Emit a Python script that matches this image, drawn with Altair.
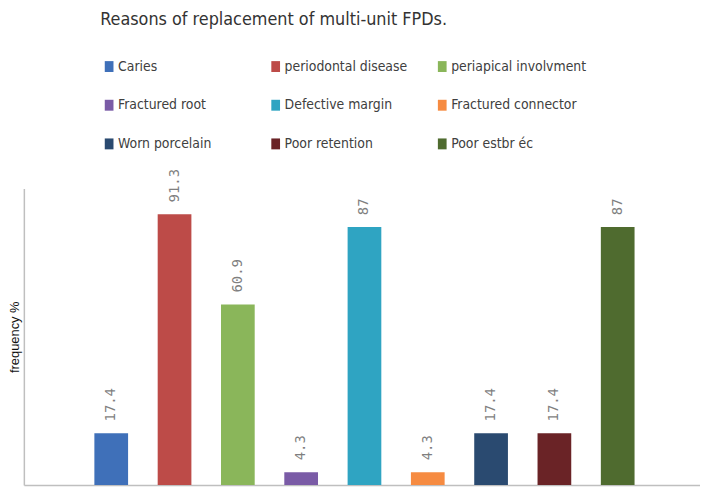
import altair as alt
import pandas as pd

categories = ["Caries", "periodontal disease", "periapical involvment",
              "Fractured root", "Defective margin", "Fractured connector",
              "Worn porcelain", "Poor retention", "Poor estbr éc"]
values = [17.4, 91.3, 60.9, 4.3, 87, 4.3, 17.4, 17.4, 87]
colors = ["#3F70B9", "#BD4B48", "#8AB65A", "#7A5BA6", "#2FA4C2", "#F68B41",
          "#2A4A70", "#6A2326", "#4F6B2F"]

df = pd.DataFrame({"reason": categories, "value": values,
                   "pos": list(range(len(categories))),
                   "label": [f"{v:g}" for v in values]})

narrow = "Liberation Sans Narrow, DejaVu Sans Condensed, sans-serif"

x = alt.X("pos:Q", scale=alt.Scale(domain=[-1.38, 9.3], nice=False, zero=False, padding=0),
          axis=alt.Axis(labels=False, ticks=False, grid=False, title=None,
                        domainColor="#BFBFBF", domainWidth=1.5))
y = alt.Y("value:Q", scale=alt.Scale(domain=[0, 100], nice=False),
          axis=alt.Axis(labels=False, ticks=False, grid=False,
                        title="frequency %", titleFont="Liberation Sans, Arial, sans-serif",
                        titleFontSize=13, titleFontWeight="normal", titleColor="#111111",
                        titlePadding=2, domainColor="#BFBFBF", domainWidth=1.5))

bars = alt.Chart(df).mark_bar(size=34).encode(
    x=x, y=y,
    color=alt.Color("reason:N",
                    scale=alt.Scale(domain=categories, range=colors),
                    legend=alt.Legend(orient="none", legendX=79, legendY=-130,
                                      columns=3, gridAlign="all", title=None,
                                      direction="horizontal",
                                      symbolType="M-0.8,-1H0.8V1H-0.8Z",
                                      symbolSize=121, symbolStrokeWidth=0,
                                      symbolOpacity=1,
                                      labelFont=narrow, labelFontSize=14,
                                      labelColor="#404040", labelOffset=2,
                                      columnPadding=15, rowPadding=25,
                                      labelLimit=300)),
)

labels = alt.Chart(df).mark_text(angle=270, align="left", baseline="middle",
                                 dx=12, font="DejaVu Sans Mono, monospace",
                                 fontSize=14, color="#7F7F7F").encode(
    x="pos:Q", y="value:Q", text="label:N")

chart = alt.layer(bars, labels).properties(
    width=682, height=299,
    autosize=alt.AutoSizeParams(type="none"),
    padding={"left": 16, "top": 180, "right": 0, "bottom": 0},
    title=alt.TitleParams("Reasons of replacement of multi-unit FPDs.",
                          anchor="start", dx=92, offset=31,
                          font=narrow, fontSize=18, fontWeight="normal",
                          color="#333333"),
).configure_view(strokeWidth=0)

chart.save("out.html", embed_options={"renderer": "svg", "actions": False})
